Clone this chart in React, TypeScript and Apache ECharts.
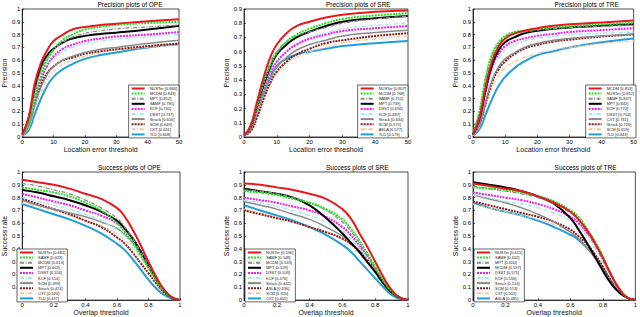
import React, { useEffect, useRef } from "react";
import * as echarts from "echarts";

const PREC_X = [0, 2, 4, 6, 8, 10, 13, 16, 20, 25, 30, 40, 50];
const SUCC_X = [0, 0.1, 0.2, 0.3, 0.4, 0.5, 0.6, 0.65, 0.7, 0.75, 0.8, 0.85, 0.9, 0.95, 1];

const OPE_PREC_NAMES = ["NUSTer [0.866]", "MCDM [0.843]", "MPT [0.812]", "SAMF [0.785]", "KCF [0.740]", "DSST [0.737]", "Struck [0.656]", "SCM [0.649]", "CXT [0.631]", "TLD [0.608]"];
const OPE_PREC_VALUES = [
  [0.02, 0.15, 0.42, 0.58, 0.68, 0.75, 0.8, 0.84, 0.86, 0.875, 0.885, 0.905, 0.92],
  [0.02, 0.1, 0.3, 0.48, 0.6, 0.68, 0.76, 0.8, 0.84, 0.86, 0.875, 0.89, 0.9],
  [0.02, 0.12, 0.35, 0.52, 0.62, 0.68, 0.74, 0.78, 0.81, 0.83, 0.845, 0.86, 0.875],
  [0.02, 0.14, 0.38, 0.55, 0.64, 0.69, 0.74, 0.77, 0.79, 0.805, 0.815, 0.84, 0.87],
  [0.02, 0.1, 0.3, 0.45, 0.56, 0.63, 0.69, 0.72, 0.75, 0.77, 0.785, 0.8, 0.82],
  [0.02, 0.1, 0.3, 0.45, 0.55, 0.61, 0.67, 0.7, 0.73, 0.75, 0.765, 0.785, 0.8],
  [0.01, 0.08, 0.25, 0.39, 0.49, 0.55, 0.6, 0.63, 0.66, 0.685, 0.7, 0.73, 0.755],
  [0.02, 0.1, 0.27, 0.41, 0.5, 0.55, 0.6, 0.62, 0.65, 0.67, 0.685, 0.71, 0.73],
  [0.01, 0.07, 0.22, 0.35, 0.45, 0.51, 0.57, 0.6, 0.63, 0.66, 0.68, 0.7, 0.72],
  [0.01, 0.05, 0.18, 0.3, 0.4, 0.47, 0.53, 0.57, 0.61, 0.64, 0.66, 0.7, 0.725],
];

const SRE_PREC_NAMES = ["NUSTer [0.807]", "MCDM [0.768]", "SAMF [0.751]", "MPT [0.739]", "DSST [0.696]", "KCF [0.687]", "Struck [0.634]", "SCM [0.575]", "ASLA [0.577]", "TLD [0.573]"];
const SRE_PREC_VALUES = [
  [0.01, 0.08, 0.25, 0.42, 0.56, 0.65, 0.73, 0.78, 0.81, 0.84, 0.86, 0.88, 0.89],
  [0.01, 0.07, 0.22, 0.38, 0.5, 0.59, 0.67, 0.72, 0.76, 0.8, 0.83, 0.855, 0.87],
  [0.01, 0.08, 0.24, 0.4, 0.52, 0.6, 0.67, 0.71, 0.74, 0.77, 0.8, 0.83, 0.85],
  [0.01, 0.07, 0.22, 0.37, 0.49, 0.58, 0.65, 0.7, 0.74, 0.78, 0.81, 0.835, 0.85],
  [0.01, 0.06, 0.2, 0.34, 0.45, 0.53, 0.6, 0.65, 0.69, 0.72, 0.745, 0.765, 0.78],
  [0.01, 0.06, 0.19, 0.33, 0.44, 0.52, 0.6, 0.65, 0.7, 0.73, 0.76, 0.785, 0.8],
  [0.01, 0.05, 0.17, 0.3, 0.41, 0.49, 0.56, 0.61, 0.65, 0.68, 0.71, 0.735, 0.75],
  [0.01, 0.04, 0.14, 0.27, 0.38, 0.46, 0.53, 0.58, 0.62, 0.66, 0.68, 0.71, 0.73],
  [0.01, 0.04, 0.14, 0.26, 0.37, 0.45, 0.52, 0.56, 0.6, 0.63, 0.66, 0.69, 0.71],
  [0.01, 0.05, 0.18, 0.32, 0.42, 0.5, 0.55, 0.58, 0.6, 0.62, 0.64, 0.66, 0.675],
];

const TRE_PREC_NAMES = ["MCDM [0.853]", "NUSTer [0.852]", "SAMF [0.847]", "MPT [0.842]", "KCF [0.774]", "DSST [0.754]", "CXT [0.731]", "Struck [0.726]", "SCM [0.659]", "TLD [0.643]"];
const TRE_PREC_VALUES = [
  [0.02, 0.15, 0.4, 0.6, 0.71, 0.77, 0.81, 0.83, 0.85, 0.87, 0.88, 0.895, 0.91],
  [0.03, 0.2, 0.47, 0.65, 0.74, 0.79, 0.82, 0.83, 0.845, 0.855, 0.865, 0.88, 0.89],
  [0.03, 0.2, 0.46, 0.64, 0.73, 0.78, 0.81, 0.82, 0.835, 0.845, 0.855, 0.865, 0.875],
  [0.02, 0.14, 0.38, 0.57, 0.68, 0.74, 0.78, 0.81, 0.83, 0.845, 0.855, 0.87, 0.88],
  [0.02, 0.13, 0.36, 0.55, 0.65, 0.71, 0.75, 0.77, 0.79, 0.805, 0.82, 0.835, 0.85],
  [0.02, 0.12, 0.34, 0.52, 0.62, 0.68, 0.72, 0.75, 0.77, 0.785, 0.8, 0.81, 0.82],
  [0.02, 0.1, 0.28, 0.45, 0.55, 0.61, 0.66, 0.7, 0.73, 0.755, 0.77, 0.79, 0.805],
  [0.02, 0.1, 0.27, 0.43, 0.53, 0.59, 0.65, 0.69, 0.72, 0.745, 0.76, 0.785, 0.8],
  [0.01, 0.08, 0.24, 0.39, 0.48, 0.54, 0.59, 0.62, 0.65, 0.68, 0.7, 0.73, 0.75],
  [0.01, 0.06, 0.18, 0.3, 0.4, 0.47, 0.54, 0.59, 0.64, 0.67, 0.7, 0.74, 0.77],
];

const OPE_SUCC_NAMES = ["NUSTer [0.681]", "SAMF [0.623]", "MCDM [0.613]", "MPT [0.602]", "DSST [0.554]", "KCF [0.514]", "SCM [0.499]", "Struck [0.474]", "CXT [0.426]", "TLD [0.437]"];
const OPE_SUCC_VALUES = [
  [0.94, 0.92, 0.9, 0.87, 0.83, 0.79, 0.72, 0.65, 0.55, 0.43, 0.3, 0.18, 0.08, 0.02, 0],
  [0.88, 0.86, 0.84, 0.81, 0.76, 0.7, 0.6, 0.53, 0.45, 0.35, 0.25, 0.15, 0.07, 0.02, 0],
  [0.91, 0.89, 0.86, 0.83, 0.78, 0.72, 0.64, 0.57, 0.48, 0.38, 0.27, 0.16, 0.07, 0.02, 0],
  [0.86, 0.84, 0.81, 0.78, 0.74, 0.69, 0.62, 0.56, 0.48, 0.38, 0.27, 0.16, 0.07, 0.02, 0],
  [0.83, 0.8, 0.77, 0.74, 0.7, 0.66, 0.6, 0.55, 0.48, 0.39, 0.28, 0.17, 0.08, 0.02, 0],
  [0.8, 0.77, 0.74, 0.71, 0.67, 0.62, 0.55, 0.5, 0.43, 0.35, 0.25, 0.15, 0.07, 0.02, 0],
  [0.78, 0.74, 0.71, 0.68, 0.65, 0.61, 0.56, 0.51, 0.45, 0.37, 0.27, 0.16, 0.07, 0.02, 0],
  [0.79, 0.75, 0.71, 0.67, 0.62, 0.57, 0.49, 0.44, 0.37, 0.29, 0.21, 0.13, 0.06, 0.02, 0],
  [0.76, 0.73, 0.7, 0.66, 0.62, 0.58, 0.52, 0.47, 0.41, 0.33, 0.24, 0.15, 0.07, 0.02, 0],
  [0.75, 0.71, 0.67, 0.63, 0.58, 0.52, 0.44, 0.39, 0.32, 0.24, 0.16, 0.09, 0.04, 0.01, 0],
];

const SRE_SUCC_NAMES = ["NUSTer [0.596]", "SAMF [0.548]", "MCDM [0.533]", "MPT [0.529]", "DSST [0.503]", "KCF [0.476]", "Struck [0.442]", "ASLA [0.436]", "SCM [0.420]", "CXT [0.405]"];
const SRE_SUCC_VALUES = [
  [0.91, 0.9, 0.88, 0.86, 0.83, 0.79, 0.71, 0.64, 0.53, 0.42, 0.3, 0.18, 0.08, 0.02, 0],
  [0.85, 0.84, 0.82, 0.79, 0.76, 0.71, 0.63, 0.56, 0.47, 0.37, 0.26, 0.15, 0.07, 0.02, 0],
  [0.86, 0.85, 0.83, 0.8, 0.76, 0.7, 0.61, 0.54, 0.45, 0.35, 0.25, 0.15, 0.07, 0.02, 0],
  [0.87, 0.85, 0.83, 0.8, 0.74, 0.64, 0.52, 0.45, 0.38, 0.3, 0.22, 0.13, 0.06, 0.02, 0],
  [0.8, 0.78, 0.76, 0.73, 0.7, 0.65, 0.57, 0.51, 0.43, 0.35, 0.25, 0.15, 0.07, 0.02, 0],
  [0.78, 0.76, 0.73, 0.7, 0.66, 0.61, 0.54, 0.48, 0.41, 0.33, 0.24, 0.14, 0.06, 0.02, 0],
  [0.77, 0.74, 0.71, 0.67, 0.63, 0.57, 0.5, 0.45, 0.38, 0.3, 0.22, 0.13, 0.06, 0.02, 0],
  [0.7, 0.67, 0.64, 0.61, 0.57, 0.53, 0.48, 0.44, 0.39, 0.32, 0.24, 0.15, 0.07, 0.02, 0],
  [0.71, 0.68, 0.65, 0.61, 0.57, 0.53, 0.47, 0.43, 0.37, 0.3, 0.22, 0.14, 0.06, 0.02, 0],
  [0.74, 0.7, 0.66, 0.62, 0.57, 0.51, 0.43, 0.38, 0.31, 0.24, 0.17, 0.1, 0.04, 0.01, 0],
];

const TRE_SUCC_NAMES = ["NUSTer [0.615]", "SAMF [0.602]", "MPT [0.600]", "MCDM [0.597]", "DSST [0.575]", "KCF [0.556]", "Struck [0.514]", "SCM [0.513]", "CXT [0.502]", "ASLA [0.485]"];
const TRE_SUCC_VALUES = [
  [0.91, 0.89, 0.87, 0.85, 0.81, 0.76, 0.69, 0.63, 0.55, 0.45, 0.33, 0.2, 0.09, 0.02, 0],
  [0.88, 0.87, 0.86, 0.84, 0.81, 0.77, 0.7, 0.65, 0.56, 0.46, 0.34, 0.2, 0.09, 0.02, 0],
  [0.89, 0.87, 0.85, 0.83, 0.8, 0.75, 0.68, 0.62, 0.53, 0.43, 0.31, 0.19, 0.08, 0.02, 0],
  [0.92, 0.9, 0.88, 0.85, 0.81, 0.75, 0.64, 0.55, 0.45, 0.34, 0.23, 0.13, 0.06, 0.02, 0],
  [0.84, 0.82, 0.8, 0.78, 0.75, 0.71, 0.65, 0.6, 0.53, 0.44, 0.33, 0.2, 0.09, 0.02, 0],
  [0.82, 0.8, 0.77, 0.75, 0.72, 0.68, 0.62, 0.57, 0.5, 0.41, 0.3, 0.18, 0.08, 0.02, 0],
  [0.82, 0.79, 0.76, 0.72, 0.67, 0.61, 0.53, 0.48, 0.41, 0.33, 0.24, 0.14, 0.06, 0.02, 0],
  [0.77, 0.74, 0.71, 0.68, 0.65, 0.61, 0.55, 0.5, 0.44, 0.36, 0.26, 0.15, 0.07, 0.02, 0],
  [0.75, 0.72, 0.69, 0.66, 0.63, 0.59, 0.53, 0.49, 0.42, 0.34, 0.25, 0.15, 0.07, 0.02, 0],
  [0.76, 0.72, 0.69, 0.66, 0.62, 0.57, 0.51, 0.47, 0.41, 0.34, 0.25, 0.15, 0.07, 0.02, 0],
];

const COLORS = ["#e8191e", "#1ee61e", "#8c8c8c", "#000000", "#f01cf0", "#a8e8ec", "#8a8a8a", "#8c1c1c", "#f0c8a0", "#1e9fdc"];
const DASH_DOT = [4, 1.5, 1, 1.5];
const TYPES: any[] = ["solid", [2, 1], DASH_DOT, "solid", [2, 1], DASH_DOT, "solid", [2, 1], DASH_DOT, "solid"];
const WIDTHS = [2, 2, 1.3, 2, 2, 1.5, 1.5, 2, 1.3, 2];

const PLOTS = [
  { title: "Precision plots of OPE", xName: "Location error threshold", yName: "Precision", xs: PREC_X, names: OPE_PREC_NAMES, values: OPE_PREC_VALUES, xmax: 50, xint: 10, ymax: 1 },
  { title: "Precision plots of SRE", xName: "Location error threshold", yName: "Precision", xs: PREC_X, names: SRE_PREC_NAMES, values: SRE_PREC_VALUES, xmax: 50, xint: 10, ymax: 0.9 },
  { title: "Precision plots of TRE", xName: "Location error threshold", yName: "Precision", xs: PREC_X, names: TRE_PREC_NAMES, values: TRE_PREC_VALUES, xmax: 50, xint: 10, ymax: 1 },
  { title: "Success plots of OPE", xName: "Overlap threshold", yName: "Success rate", xs: SUCC_X, names: OPE_SUCC_NAMES, values: OPE_SUCC_VALUES, xmax: 1, xint: 0.2, ymax: 1 },
  { title: "Success plots of SRE", xName: "Overlap threshold", yName: "Success rate", xs: SUCC_X, names: SRE_SUCC_NAMES, values: SRE_SUCC_VALUES, xmax: 1, xint: 0.2, ymax: 1 },
  { title: "Success plots of TRE", xName: "Overlap threshold", yName: "Success rate", xs: SUCC_X, names: TRE_SUCC_NAMES, values: TRE_SUCC_VALUES, xmax: 1, xint: 0.2, ymax: 1 },
];

const LAYOUT = [
  { l: 16, t: 9, w: 163, h: 128, leg: { right: 461, top: 85 }, yGap: 9, xGap: 6 },
  { l: 244, t: 9, w: 164, h: 128, leg: { right: 232, top: 85 }, yGap: 10, xGap: 6 },
  { l: 473, t: 9, w: 163, h: 128, leg: { right: 4, top: 85 }, yGap: 11, xGap: 6 },
  { l: 16, t: 172, w: 164, h: 130, leg: { left: 17, top: 249 }, yGap: 9, xGap: 3 },
  { l: 244, t: 172, w: 164, h: 130, leg: { left: 245, top: 249 }, yGap: 10, xGap: 3 },
  { l: 473, t: 172, w: 163, h: 130, leg: { left: 474, top: 249 }, yGap: 11, xGap: 3 },
];

const FONT = "Liberation Sans, Arial, sans-serif";

function buildOption() {
  const grid: any[] = [];
  const xAxis: any[] = [];
  const yAxis: any[] = [];
  const series: any[] = [];
  const legend: any[] = [];
  const graphic: any[] = [];
  PLOTS.forEach((p, i) => {
    const L = LAYOUT[i];
    grid.push({ left: L.l, top: L.t, width: L.w, height: L.h, show: true, borderColor: "#000", borderWidth: 0.7, backgroundColor: "#fff" });
    const axisCommon = {
      axisLine: { show: true, lineStyle: { color: "#000", width: 0.7 } },
      axisTick: { show: true, inside: true, length: 2, lineStyle: { color: "#000", width: 0.6 } },
      splitLine: { show: false },
      axisLabel: { fontSize: 6, color: "#000", fontFamily: FONT, margin: 2 },
      nameTextStyle: { fontSize: 7, color: "#111", fontFamily: FONT },
    };
    xAxis.push({
      ...axisCommon, type: "value", gridIndex: i, min: 0, max: p.xmax, interval: p.xint,
      name: p.xName, nameLocation: "middle", nameGap: L.xGap,
    });
    yAxis.push({
      ...axisCommon, type: "value", gridIndex: i, min: 0, max: p.ymax, interval: 0.1,
      name: p.yName, nameLocation: "middle", nameGap: L.yGap,
      axisLabel: { ...axisCommon.axisLabel, formatter: (v: number) => String(Math.round(v * 10) / 10) },
    });
    p.names.forEach((name, k) => {
      series.push({
        type: "line", name, xAxisIndex: i, yAxisIndex: i,
        data: p.xs.map((x, j) => [x, p.values[k][j]]),
        symbol: "none", smooth: 0.5,
        lineStyle: { color: COLORS[k], type: TYPES[k], width: WIDTHS[k] },
        itemStyle: { color: COLORS[k] },
        z: 20 - k,
      });
    });
    legend.push({
      data: p.names, orient: "vertical", ...L.leg,
      itemWidth: 13, itemHeight: 4, itemGap: 1.1, padding: [1.5, 2, 1.5, 2],
      backgroundColor: "#fff", borderColor: "#000", borderWidth: 0.6,
      textStyle: { fontSize: 4, color: "#222", fontFamily: FONT },
      itemStyle: { opacity: 0 },
      selectedMode: false,
    });
    graphic.push({
      type: "text", left: L.l + L.w / 2, top: L.t - 8,
      style: { text: p.title, fontSize: 6.5, fill: "#000", fontFamily: FONT, textAlign: "center" },
    });
  });
  return { animation: false, backgroundColor: "#fff", grid, xAxis, yAxis, series, legend, graphic };
}

export default function App() {
  const ref = useRef<HTMLDivElement>(null);
  useEffect(() => {
    document.body.style.margin = "0";
    const chart = echarts.init(ref.current!, undefined, { renderer: "svg" });
    chart.setOption(buildOption() as any);
    return () => chart.dispose();
  }, []);
  return <div ref={ref} style={{ width: 640, height: 317 }} />;
}
